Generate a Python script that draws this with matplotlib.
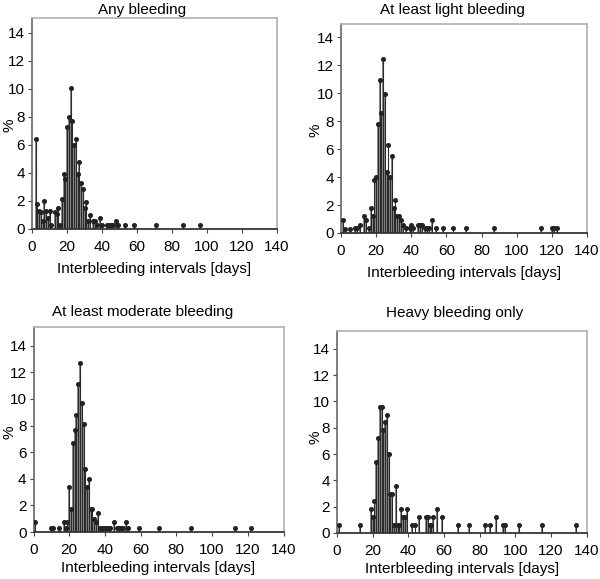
import matplotlib
matplotlib.use('Agg')
import matplotlib.pyplot as plt

plt.rcParams['font.family'] = ['Liberation Sans', 'DejaVu Sans']
plt.rcParams['font.size'] = 11

# interval length (days) and share of intervals (%)
any_days = [2, 3, 4, 5, 6, 7, 8, 9, 10, 11,
            13, 14, 15, 16, 17, 18, 19, 20, 21, 22, 23, 24, 25, 26, 27, 28, 29, 30, 31, 32, 33,
            35, 36, 37, 39, 40, 43, 44, 45, 46, 48, 49, 53, 58, 71, 86, 96]
any_pct = [6.4, 1.75, 1.25, 1.2, 0.55, 2.0, 1.25, 0.8, 1.25, 0.3,
           1.2, 1.1, 1.5, 0.3, 2.15, 3.9, 3.6, 7.3, 8.0, 10.1, 7.7, 6.0, 6.45, 3.9, 4.75, 3.3, 2.85, 1.5, 1.95, 0.6, 1.0,
           0.6, 0.55, 0.3, 0.8, 0.3, 0.3, 0.3, 0.3, 0.3, 0.6, 0.3, 0.3, 0.3, 0.3, 0.3, 0.3]

light_days = [1, 2, 5, 8, 9, 11, 13, 14, 16,
              17, 18, 19, 20, 21, 22, 23, 24, 25, 26, 27, 28, 29, 30, 31, 32, 33, 34, 35,
              37, 39, 40, 41, 44, 45, 46, 48, 49, 50, 52, 54, 58, 64, 71, 87, 114, 120, 121, 123]
light_pct = [0.9, 0.3, 0.3, 0.35, 0.35, 0.6, 1.2, 0.9, 0.35,
             1.8, 1.2, 3.8, 4.0, 7.8, 10.9, 8.6, 12.4, 9.9, 4.35, 6.3, 4.0, 5.5, 1.8, 2.35, 1.2, 1.2, 0.9, 0.6,
             0.35, 0.35, 0.6, 0.35, 0.6, 0.6, 0.6, 0.35, 0.35, 0.35, 0.9, 0.35, 0.35, 0.35, 0.35, 0.35, 0.35, 0.35, 0.35, 0.35]

moderate_days = [1, 10, 11, 14, 17, 18, 19, 20, 21, 22, 23, 24, 25, 26, 27, 28, 29, 30, 31, 32, 33, 34, 35, 36,
                 37, 38, 39, 40, 41, 42, 43, 45, 47, 48, 49, 50, 52, 53, 59, 70, 88, 113, 122]
moderate_pct = [0.72, 0.31, 0.31, 0.31, 0.72, 0.31, 0.72, 3.4, 1.7, 6.7, 7.7, 8.8, 11.1, 12.7, 9.7, 8.1, 4.75, 3.4, 4.0, 1.7, 1.7, 1.0, 0.72, 1.4,
                0.31, 0.31, 0.31, 0.31, 0.31, 0.31, 0.31, 0.72, 0.31, 0.31, 0.31, 0.31, 0.72, 0.31, 0.31, 0.31, 0.31, 0.31, 0.31]

heavy_days = [1, 13, 19, 20, 21, 22, 23, 24, 25, 26, 27, 28, 29, 30, 31, 32, 33, 34, 35, 36, 37, 38, 39,
              42, 44, 46, 50, 51, 52, 53, 54, 56, 59, 68, 74, 83, 86, 89, 93, 94, 102, 115, 134]
heavy_pct = [0.6, 0.6, 1.8, 1.2, 2.4, 5.4, 7.2, 9.6, 9.6, 7.8, 8.4, 9.0, 6.0, 3.0, 3.0, 0.6, 3.6, 0.6, 0.6, 1.8, 1.2, 1.2, 1.8,
             0.6, 0.6, 1.2, 1.2, 1.2, 0.6, 0.6, 1.2, 1.8, 1.2, 0.6, 0.6, 0.6, 0.6, 1.2, 0.6, 0.6, 0.6, 0.6, 0.6]

titles = ['Any bleeding', 'At least light bleeding', 'At least moderate bleeding', 'Heavy bleeding only']
xticks = [0, 20, 40, 60, 80, 100, 120, 140]
yticks = [0, 2, 4, 6, 8, 10, 12, 14]

series = [(any_days, any_pct), (light_days, light_pct),
          (moderate_days, moderate_pct), (heavy_days, heavy_pct)]

W, H = 600, 579
# axes boxes in pixels: left, top, right, bottom
boxes = [(32, 18, 277, 229), (341, 24, 587, 233), (33.5, 327, 283.5, 532), (337, 331, 586.5, 533)]
ytops = [15.07, 14.93, 15.4, 15.35]
label_pads = [6, 6, 3, 3]
title_pos = [(142.5, 14), (452, 14), (142.5, 316), (454.5, 317)]
pct_pos = [(10, 125), (316, 130), (10, 432), (315, 437)]

fig = plt.figure(figsize=(W / 100, H / 100), dpi=100)

for i, (days, pct) in enumerate(series):
    l, t, r, b = boxes[i]
    ax = fig.add_axes([l / W, 1 - b / H, (r - l) / W, (b - t) / H])
    ax.bar(days, pct, width=1.0, color='#8c8c8c', linewidth=0, zorder=2)
    ax.vlines(days, 0, pct, color='#2b2b2b', lw=0.8, zorder=3)
    ax.plot(days, pct, 'o', ms=2.6, color='#222222', zorder=4)

    ax.set_xlim(0, 140)
    ax.set_ylim(0, ytops[i])
    ax.set_xticks(xticks)
    ax.set_yticks(yticks)
    ax.tick_params(direction='out', length=3, width=0.8, color='#444444')
    ax.tick_params(axis='x', pad=5)
    ax.tick_params(axis='y', pad=2)
    ax.set_xlabel('Interbleeding intervals [days]', labelpad=label_pads[i])

    ax.spines['bottom'].set_color('#444444')
    ax.spines['bottom'].set_linewidth(1.4)
    ax.spines['left'].set_color('#666666')
    ax.spines['left'].set_linewidth(1.2)
    for side in ['top', 'right']:
        ax.spines[side].set_color('#b0b0b0')
        ax.spines[side].set_linewidth(1.2)

    tx, ty = title_pos[i]
    fig.text(tx / W, 1 - ty / H, titles[i], ha='center', va='baseline')
    px, py = pct_pos[i]
    fig.text(px / W, 1 - py / H, '%', rotation=90, ha='center', va='center')

fig.savefig('out.png', dpi=100)
plt.close(fig)
